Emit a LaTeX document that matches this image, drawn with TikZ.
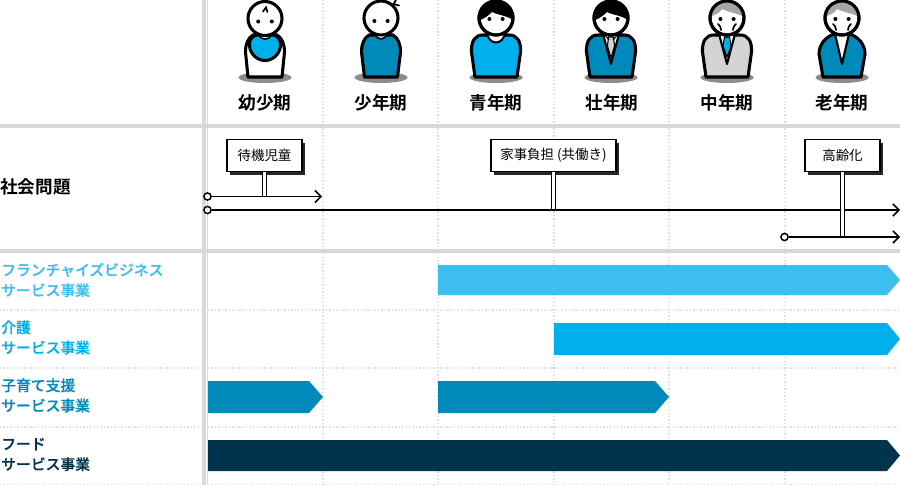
\documentclass[tikz,border=0pt]{standalone}
\usepackage{fontspec}
\setmainfont{Noto Sans CJK JP}
\newfontfamily\jpbold{Noto Sans CJK JP Bold}
\newfontfamily\jpmed[FakeBold=0.35]{Noto Sans CJK JP Medium}
\usetikzlibrary{arrows.meta,shadows}
\definecolor{cFC}{HTML}{3CBEEF}
\definecolor{cCare}{HTML}{00B0EC}
\definecolor{cChild}{HTML}{0089BB}
\definecolor{cFood}{HTML}{00344C}
\definecolor{cGrid}{HTML}{D8D8D8}
\definecolor{cDot}{HTML}{DDDDDD}
\definecolor{cHair}{HTML}{A6A6A6}
\definecolor{cSuit}{HTML}{D3D3D3}
\definecolor{cShadow}{HTML}{8C8C8C}
\tikzset{
  x=0.75pt,y=-0.75pt,
  outl/.style={draw=black,line width=2.3pt,line join=round,line cap=round},
  thinl/.style={draw=black,line width=1.3pt,line cap=round},
  agelabel/.style={font=\fontsize{13.2}{15}\selectfont\jpbold,inner sep=0pt},
  rowlabel/.style={font=\fontsize{11.1}{15.2}\selectfont\jpmed,inner sep=0pt,anchor=west,align=left},
  signbox/.style={draw=black,line width=1.1pt,fill=white,minimum height=24pt,inner sep=0pt,
    font=\fontsize{10.1}{12}\selectfont,
    general shadow={shadow xshift=2.4pt,shadow yshift=-2.4pt,fill=black!85}},
  startdot/.style={circle,draw=black,line width=1.1pt,fill=white,minimum size=5.4pt,inner sep=0pt},
  flow/.style={draw=black,line width=1.1pt,-{Straight Barb[length=4.5pt,width=9pt,line width=1.1pt]}},
  post/.style={draw=black,line width=1pt,double=white,double distance=1.7pt},
  griddot/.style={draw=cDot,line width=0.8pt,dash pattern=on 1pt off 1.6pt},
  gridmain/.style={draw=cGrid,line width=2.6pt},
}
\newcommand{\adultbody}[1]{%
  \path[outl,fill=#1] (-21,77) -- (-24.5,52) .. controls (-25,41) and (-21,35) .. (-13,35)
    -- (13,35) .. controls (21,35) and (25,41) .. (24.5,52) -- (21,77) -- cycle;}
\newcommand{\headshape}{\path[outl,fill=white] (0,18) circle [radius=17];}
\newcommand{\eyes}[1]{\fill (-6.6,#1) circle [radius=2]; \fill (6.6,#1) circle [radius=2];}
\newcommand{\blackhair}{%
  \begin{scope}\clip (0,18) circle [radius=17];
  \fill (-18,21) .. controls (-10,18) and (-6,14) .. (-4,12) .. controls (3,15.5) and (12,15.5) .. (18,21) -- (18,-2) -- (-18,-2) -- cycle;
  \end{scope}}
\newcommand{\grayhair}{%
  \begin{scope}\clip (0,18) circle [radius=17];
  \fill[cHair] (-18,17) .. controls (-10,14.5) and (-7,12) .. (-5,9) .. controls (3,13) and (12,13) .. (18,18) -- (18,-2) -- (-18,-2) -- cycle;
  \end{scope}}
\newcommand{\wrinkles}{%
  \draw[thinl] (-9,24) .. controls (-7,25) and (-6,28) .. (-6,30);
  \draw[thinl] (9,24) .. controls (7,25) and (6,28) .. (6,30);}
\begin{document}
\begin{tikzpicture}
\useasboundingbox (0,0) rectangle (900,485);
\fill[white] (0,0) rectangle (900,485);
% grid
\foreach \gx in {323,438,554,669,785} \draw[griddot] (\gx,0) -- (\gx,485);
\foreach \gy in {310,368,427,484.5} \draw[griddot] (0,\gy) -- (900,\gy);
\draw[gridmain] (0,126) -- (900,126);
\draw[gridmain] (0,251) -- (900,251);
\draw[gridmain] (204,0) -- (204,485);
\draw[draw=cGrid,line width=0.8pt] (207.5,0) -- (207.5,485);
% baby
\begin{scope}[xshift=198.75pt]
\fill[cShadow] (0,77.5) ellipse [x radius=26.5,y radius=5.5];
\path[outl,fill=white] (-17,77) -- (-19.5,52) .. controls (-19.5,44) and (-17,38) .. (-12,35) -- (12,35) .. controls (17,38) and (19.5,44) .. (19.5,52) -- (17,77) -- cycle;
\path[outl,fill=cCare] (-9,35) .. controls (-14,37) and (-16,41) .. (-15.5,46) .. controls (-14.5,55) and (-7,60.5) .. (0,60.5) .. controls (7,60.5) and (14.5,55) .. (15.5,46) .. controls (16,41) and (14,37) .. (9,35) -- cycle;
\path[draw=black,line width=1.2pt,fill=white] (-6,34) .. controls (-5,41) and (5,41) .. (6,34) -- cycle;
\path[outl,fill=white] (0,18.5) circle [radius=17];
\fill (-6.8,21.5) circle [radius=2]; \fill (6.8,21.5) circle [radius=2];
\draw[thinl] (-2,11.5) -- (1,7.5) -- (2.5,12);
\end{scope}
% boy
\begin{scope}[xshift=285.75pt]
\fill[cShadow] (0,77.5) ellipse [x radius=26.5,y radius=5.5];
\path[outl,fill=cChild] (-16.5,77) -- (-19.5,52) .. controls (-19.5,44) and (-17,38) .. (-12,35) -- (12,35) .. controls (17,38) and (19.5,44) .. (19.5,52) -- (16.5,77) -- cycle;
\path[draw=black,line width=1.2pt,fill=white] (-6,33) .. controls (-5,41) and (5,41) .. (6,33) -- cycle;
\draw[thinl] (12,5) -- (15,0); \draw[thinl] (12.5,4) -- (18,5.5);
\headshape \eyes{21}
\end{scope}
% youth
\begin{scope}[xshift=372pt]
\fill[cShadow] (0,77.5) ellipse [x radius=26.5,y radius=5.5];
\adultbody{cCare}
\path[draw=black,line width=1.5pt,fill=white] (-9,32) .. controls (-8,46) and (8,46) .. (9,32) -- cycle;
\headshape \blackhair \path[outl] (0,18) circle [radius=17]; \eyes{19}
\end{scope}
% prime
\begin{scope}[xshift=458.25pt]
\fill[cShadow] (0,77.5) ellipse [x radius=26.5,y radius=5.5];
\adultbody{cChild}
\path[draw=black,line width=1.6pt,line join=round,fill=white] (-8,34) -- (0,64) -- (8,34) -- cycle;
\path[draw=black,line width=0.8pt,fill=cSuit] (-2.5,37) -- (2.5,37) -- (3.5,46) -- (0,58) -- (-3.5,46) -- cycle;
\draw[black,line width=0.8pt] (-8,33) -- (-2,40); \draw[black,line width=0.8pt] (8,33) -- (2,40);
\headshape \blackhair \path[outl] (0,18) circle [radius=17]; \eyes{19}
\end{scope}
% middle
\begin{scope}[xshift=545.25pt]
\fill[cShadow] (0,77.5) ellipse [x radius=26.5,y radius=5.5];
\adultbody{cSuit}
\path[draw=black,line width=1.6pt,line join=round,fill=white] (-8,34) -- (0,64) -- (8,34) -- cycle;
\path[draw=black,line width=0.8pt,fill=cCare] (-2.5,37) -- (2.5,37) -- (4,46) -- (0,57) -- (-4,46) -- cycle;
\headshape \grayhair \path[outl] (0,18) circle [radius=17]; \eyes{19} \wrinkles
\end{scope}
% senior
\begin{scope}[xshift=631.5pt]
\fill[cShadow] (0,77.5) ellipse [x radius=26.5,y radius=5.5];
\path[outl,fill=cChild] (-19,77) -- (-23,54) .. controls (-23,44) and (-16,37) .. (-8,34) -- (8,34) .. controls (16,37) and (23,44) .. (23,54) -- (19,77) -- cycle;
\path[draw=black,line width=1.6pt,line join=round,fill=white] (-7,34) -- (0,64) -- (7,34) -- cycle;
\headshape \grayhair \path[outl] (0,18) circle [radius=17]; \eyes{19} \wrinkles
\end{scope}
% age labels
\node[agelabel] (a1) at (265,103) {幼少期};
\node[agelabel] (a2) at (381,103) {少年期};
\node[agelabel] (a3) at (496,103) {青年期};
\node[agelabel] (a4) at (612,103) {壮年期};
\node[agelabel] (a5) at (727,103) {中年期};
\node[agelabel] (a6) at (842,103) {老年期};
% social row
\node[agelabel,anchor=west] (soc) at (0,187) {社会問題};
\node[signbox,minimum width=56pt] (n1) at (264.5,155.5) {待機児童};
\node[signbox,minimum width=93.5pt] (n2) at (553.5,155.5) {家事負担 (共働き)};
\node[signbox,minimum width=56pt] (n3) at (842.5,155.5) {高齢化};
\node[startdot] (s1) at (207.5,196.5) {};
\node[startdot] (s2) at (207.5,210) {};
\node[startdot] (s3) at (784.5,237) {};
\coordinate (e1) at (322,196.5);
\coordinate (e2) at (900,210);
\coordinate (e3) at (900,237);
\coordinate (p1) at (264.5,196.5);
\coordinate (p2) at (553.5,210);
\coordinate (p3) at (842.5,237);
\draw[post] (n1.south) -- (p1);
\draw[post] (n2.south) -- (p2);
\draw[flow] (s1) -- (e1);
\draw[flow] (s2) -- (e2);
\draw[post] (n3.south) -- (p3);
\draw[flow] (s3) -- (e3);
% bars
\fill[cFC] (438,265) -- (887,265) -- (900,280) -- (887,295) -- (438,295) -- cycle;
\fill[cCare] (554,323) -- (887,323) -- (900,339) -- (887,355) -- (554,355) -- cycle;
\fill[cChild] (208,381) -- (309,381) -- (323,397) -- (309,413) -- (208,413) -- cycle;
\fill[cChild] (438,381) -- (655,381) -- (669,397) -- (655,413) -- (438,413) -- cycle;
\fill[cFood] (208,440) -- (887,440) -- (900,455.5) -- (887,471) -- (208,471) -- cycle;
% row labels
\node[rowlabel,text=cFC] (l1) at (1,280) {フランチャイズビジネス\\サービス事業};
\node[rowlabel,text=cCare] (l2) at (1,337.5) {介護\\サービス事業};
\node[rowlabel,text=cChild] (l3) at (1,395.5) {子育て支援\\サービス事業};
\node[rowlabel,text=cFood] (l4) at (1,454.5) {フード\\サービス事業};
\end{tikzpicture}
\end{document}
